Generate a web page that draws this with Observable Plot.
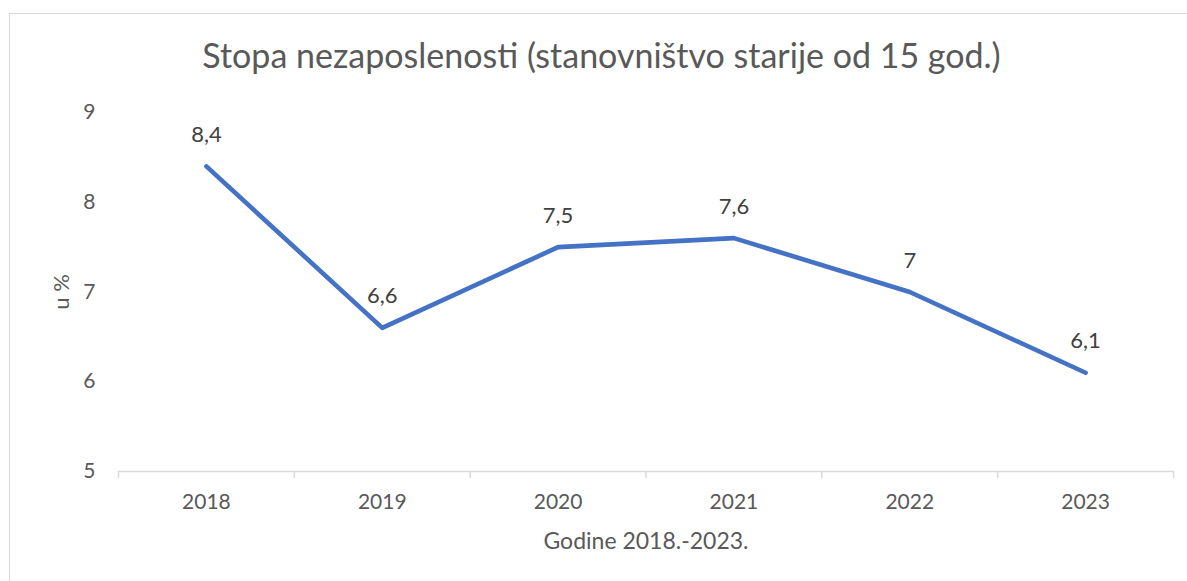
<!DOCTYPE html>
<html>
<head>
<meta charset="utf-8">
<script src="https://cdn.jsdelivr.net/npm/d3@7"></script>
<script src="https://cdn.jsdelivr.net/npm/@observablehq/plot@0.6"></script>
<style>
  html, body { margin: 0; padding: 0; background: #fff; overflow: hidden; }
  #wrap { position: relative; width: 1187px; height: 581px; overflow: hidden; }
  #border { position: absolute; left: 9px; top: 13px; width: 1300px; height: 700px; border: 1.4px solid #d9d9d9; box-sizing: border-box; }
  #chart { position: absolute; left: 0; top: 0; }
</style>
</head>
<body>
<div id="wrap"><div id="border"></div><div id="chart"></div></div>
<script>
const title = "Stopa nezaposlenosti (stanovništvo starije od 15 god.)";
const xLabel = "Godine 2018.-2023.";
const yLabel = "u %";
const years = [2018, 2019, 2020, 2021, 2022, 2023];
const values = [8.4, 6.6, 7.5, 7.6, 7.0, 6.1];
const yTicks = [5, 6, 7, 8, 9];

const data = years.map((year, i) => ({year, value: values[i]}));
const boundaries = [years[0] - 0.5, ...years.map(y => y + 0.5)];
const fmt = v => String(v).replace(".", ",");
const FONT = "Lato, 'Open Sans', sans-serif";

const chart = Plot.plot({
  width: 1187,
  height: 581,
  marginLeft: 118,
  marginRight: 14,
  marginTop: 112,
  marginBottom: 110,
  style: {fontFamily: FONT, background: "transparent", overflow: "visible"},
  x: {type: "linear", domain: [years[0] - 0.5, years[years.length - 1] + 0.5]},
  y: {domain: [5, 9]},
  marks: [
    Plot.ruleY([5], {stroke: "#d9d9d9", strokeWidth: 1.5}),
    Plot.axisX({ticks: boundaries, tickSize: 7, tickFormat: () => "", stroke: "#d9d9d9", strokeWidth: 1.5, label: null}),
    Plot.axisX({ticks: years, tickSize: 0, tickPadding: 23, tickFormat: d => String(d), fontSize: 21, fill: "#595959", label: null}),
    Plot.axisY({ticks: yTicks, tickSize: 0, tickPadding: 23, tickFormat: d => String(d), fontSize: 21, fill: "#595959", label: null}),
    Plot.line(data, {x: "year", y: "value", stroke: "#4472C4", strokeWidth: 4.6, strokeLinecap: "round", strokeLinejoin: "round"}),
    Plot.text(data, {x: "year", y: "value", text: d => fmt(d.value), dy: -31.5, fontSize: 22, fill: "#404040", lineAnchor: "middle"}),
    Plot.text([title], {frameAnchor: "top", dx: -44.5, dy: -55.5, fontSize: 34, fill: "#595959", textAnchor: "middle", lineAnchor: "middle"}),
    Plot.text([xLabel], {frameAnchor: "bottom", dy: 70, fontSize: 23, fill: "#595959", textAnchor: "middle", lineAnchor: "middle"}),
    Plot.text([yLabel], {frameAnchor: "left", dx: -57, rotate: -90, fontSize: 22, fill: "#595959", textAnchor: "middle", lineAnchor: "middle"})
  ]
});
document.getElementById("chart").appendChild(chart);
</script>
</body>
</html>
